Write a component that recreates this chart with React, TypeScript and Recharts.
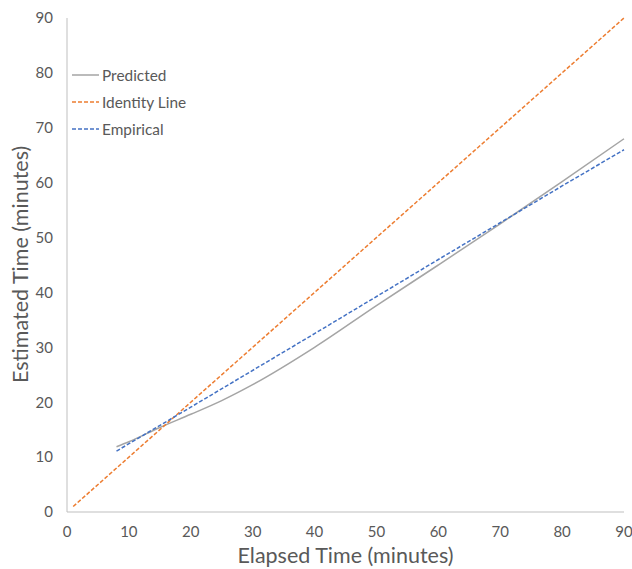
import React from "react";
import { LineChart, Line, XAxis, YAxis } from "recharts";

const xTicks = [0, 10, 20, 30, 40, 50, 60, 70, 80, 90];
const yTicks = [0, 10, 20, 30, 40, 50, 60, 70, 80, 90];

const predictedX = [8, 10, 15, 20, 25, 30, 40, 50, 60, 70, 80, 90];
const predictedY = [11.9, 12.8, 15.4, 17.8, 20.3, 23.2, 30, 37.6, 45, 52.5, 60.2, 68];

const identityX = [1, 90];
const identityY = [1, 90];

const empiricalX = [8, 20, 40, 60, 80, 90];
const empiricalY = [11.1, 19.1, 32.5, 46, 59.4, 66];

const toPoints = (xs: number[], ys: number[]) => xs.map((x, i) => ({ x, y: ys[i] }));

const predicted = toPoints(predictedX, predictedY);
const identity = toPoints(identityX, identityY);
const empirical = toPoints(empiricalX, empiricalY);

const FONT = "Lato, 'Open Sans', sans-serif";
const TEXT = "#595959";
const AXIS = "#bfbfbf";

const legendItems = [
  { name: "Predicted", color: "#a5a5a5", dash: undefined },
  { name: "Identity Line", color: "#ed7d31", dash: "4 2" },
  { name: "Empirical", color: "#4472c4", dash: "4 2" },
];

function ChartLegend() {
  return (
    <div style={{ position: "absolute", left: 72, top: 61, fontFamily: FONT, fontSize: 15.4, color: TEXT }}>
      {legendItems.map((item) => (
        <div key={item.name} style={{ display: "flex", alignItems: "center", height: 27 }}>
          <svg width={28} height={6} style={{ marginRight: 2 }}>
            <line x1={0} y1={3} x2={27} y2={3} stroke={item.color} strokeWidth={1.5} strokeDasharray={item.dash} />
          </svg>
          <span>{item.name}</span>
        </div>
      ))}
    </div>
  );
}

export default function App() {
  return (
    <div style={{ position: "absolute", left: 0, top: 0, width: 632, height: 569, background: "#fff" }}>
      <LineChart width={632} height={569} margin={{ top: 18, right: 8, left: 0, bottom: 0 }}>
        <XAxis
          type="number"
          dataKey="x"
          domain={[0, 90]}
          ticks={xTicks}
          allowDuplicatedCategory={false}
          stroke={AXIS}
          tickLine={false}
          tickSize={0}
          tickMargin={14}
          height={57}
          tick={{ fill: TEXT, fontSize: 15, fontFamily: FONT }}
          label={{ value: "Elapsed Time (minutes)", position: "insideBottom", offset: 6, fill: TEXT, fontSize: 21.5, fontFamily: FONT }}
        />
        <YAxis
          type="number"
          dataKey="y"
          domain={[0, 90]}
          ticks={yTicks}
          stroke={AXIS}
          tickLine={false}
          tickSize={0}
          tickMargin={14}
          width={67}
          tick={{ fill: TEXT, fontSize: 15, fontFamily: FONT }}
          label={{ value: "Estimated Time (minutes)", angle: -90, position: "insideLeft", offset: 20, dy: 118, fill: TEXT, fontSize: 21.5, fontFamily: FONT }}
        />
        <Line data={predicted} dataKey="y" name="Predicted" type="monotone" stroke="#a5a5a5" strokeWidth={1.5} dot={false} isAnimationActive={false} />
        <Line data={identity} dataKey="y" name="Identity Line" type="linear" stroke="#ed7d31" strokeWidth={1.5} strokeDasharray="4 2" dot={false} isAnimationActive={false} />
        <Line data={empirical} dataKey="y" name="Empirical" type="linear" stroke="#4472c4" strokeWidth={1.5} strokeDasharray="4 2" dot={false} isAnimationActive={false} />
      </LineChart>
      <ChartLegend />
    </div>
  );
}
